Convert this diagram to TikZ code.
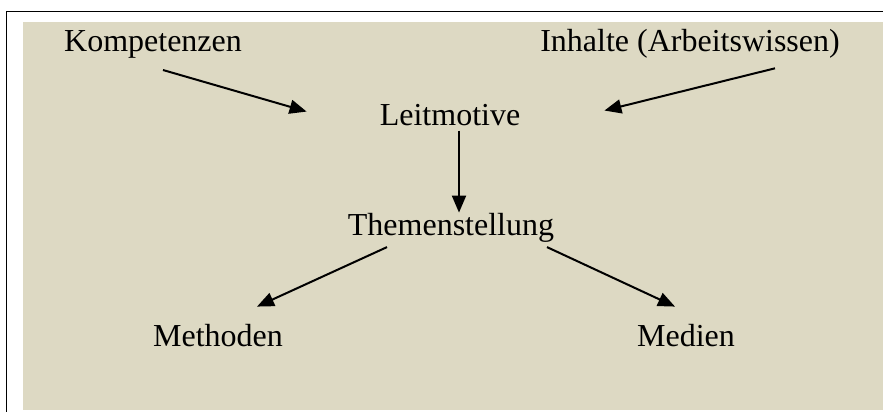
\documentclass[tikz,border=0pt]{standalone}
\usepackage{fontspec}
\setmainfont{Liberation Serif}
\usetikzlibrary{arrows.meta}
\definecolor{hgbeige}{RGB}{221,217,195}
\begin{document}
\begin{tikzpicture}[x=1pt,y=-1pt,
  txt/.style={inner sep=0pt, anchor=base, font=\fontsize{32}{38}\selectfont},
  pfeil/.style={line width=2pt, -{Triangle[length=17pt,width=14pt]}}]
\clip (0,0) rectangle (883,412);
\fill[white] (0,0) rectangle (883,412);
\draw[line width=1.5pt] (6.5,11.5) rectangle (900,430);
\fill[hgbeige] (23,22) rectangle (900,410);
\node[txt] (komp) at (153,52){Kompetenzen};
\node[txt] (inh) at (690,52){Inhalte (Arbeitswissen)};
\node[txt] (leit) at (450,125){Leitmotive};
\node[txt] (them) at (451,235){Themenstellung};
\node[txt] (meth) at (218,346){Methoden};
\node[txt] (med) at (686,346){Medien};
\draw[pfeil]([shift={(10,11)}]komp.south) -- ([shift={(-73,-3)}]leit.west);
\draw[pfeil]([shift={(85,9.3)}]inh.south) -- ([shift={(84,-4)}]leit.east);
\draw[pfeil]([shift={(9,5)}]leit.south) -- ([shift={(8,0)}]them.north);
\draw[pfeil]([shift={(-64,5)}]them.south) -- ([shift={(39,-17)}]meth.north);
\draw[pfeil]([shift={(96,5)}]them.south) -- ([shift={(-11,-17)}]med.north);
\end{tikzpicture}
\end{document}
